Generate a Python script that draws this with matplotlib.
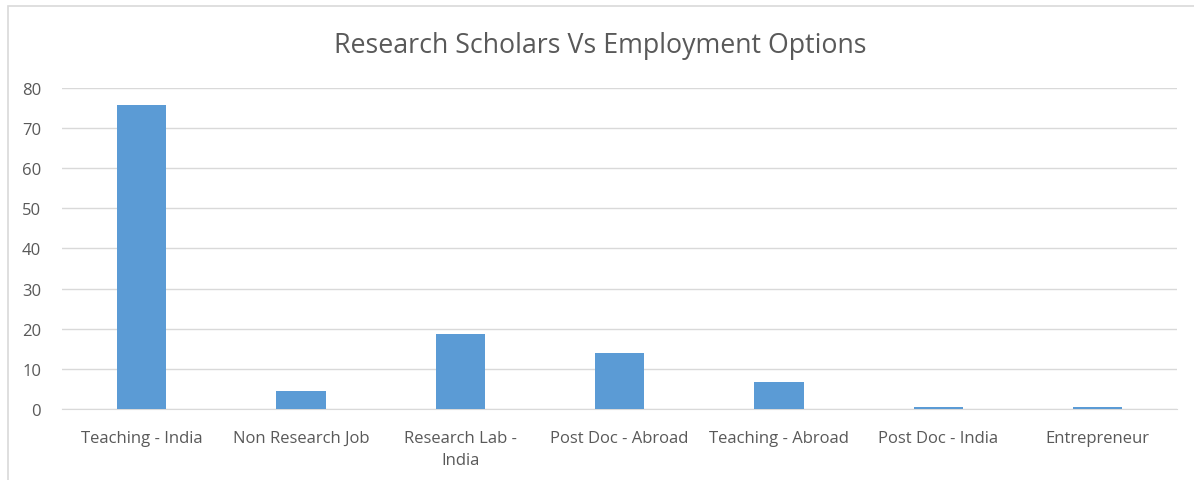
import matplotlib.pyplot as plt
from matplotlib.patches import Rectangle

categories = ["Teaching - India", "Non Research Job", "Research Lab -\nIndia",
              "Post Doc - Abroad", "Teaching - Abroad", "Post Doc - India", "Entrepreneur"]
values = [75.7, 4.6, 18.8, 14, 6.7, 0.5, 0.5]
yticks = [0, 10, 20, 30, 40, 50, 60, 70, 80]

plt.rcParams['font.family'] = ['Open Sans', 'DejaVu Sans']
text_col = "#595959"

fig = plt.figure(figsize=(11.94, 4.81), dpi=100)
# chart frame, cut off at the right and bottom like the screenshot
fig.patches.append(Rectangle((0.0067, -0.05), 1.05, 1.035, transform=fig.transFigure,
                             fill=False, edgecolor="#d9d9d9", linewidth=1.2))

ax = fig.add_axes([0.0519, 0.1476, 0.934, 0.6674])
x = range(len(categories))
ax.bar(x, values, width=0.31, color="#5b9bd5", zorder=3)

ax.set_xlim(-0.5, len(categories) - 0.5)
ax.set_ylim(0, 80)
ax.set_yticks(yticks)
ax.set_xticks(list(x))
ax.set_xticklabels(categories, color=text_col, fontsize=12, linespacing=1.55)
ax.tick_params(axis="y", labelcolor=text_col, labelsize=12, length=0, pad=15)
ax.tick_params(axis="x", length=0, pad=15)
ax.grid(axis="y", color="#d9d9d9", linewidth=1, zorder=0)
for s in ["top", "right", "left"]:
    ax.spines[s].set_visible(False)
ax.spines["bottom"].set_color("#d9d9d9")

fig.text(0.503, 0.905, "Research Scholars Vs Employment Options", ha="center", va="center",
         fontsize=19.3, color=text_col)

fig.savefig("out.png", dpi=100)
